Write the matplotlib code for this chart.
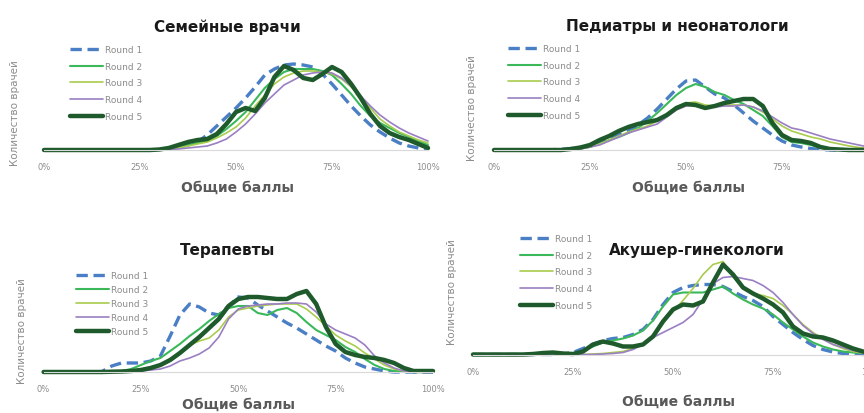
import numpy as np
import matplotlib
matplotlib.use("Agg")
import matplotlib.pyplot as plt

# шкала баллов (шаг 2.5%)
scores = np.arange(0, 100.1, 2.5)
tick_pos = [0, 25, 50, 75, 100]
tick_labels = ['0%', '25%', '50%', '75%', '100%']
round_names = ['Round 1', 'Round 2', 'Round 3', 'Round 4', 'Round 5']

# Семейные врачи
fam_r1 = [0]*12 + [0.5, 1, 2.5, 5, 8, 15, 24, 33, 42, 52, 63, 75, 81, 85, 86, 85, 83, 76, 66, 55, 44, 34, 25, 18, 12, 7, 4, 2, 1]
fam_r2 = [0]*12 + [0.5, 1, 3, 5, 7, 9, 14, 21, 29, 38, 50, 62, 71, 78, 81, 81, 81, 79, 75, 66, 56, 44, 34, 27, 22, 17, 13, 9, 5]
fam_r3 = [0]*12 + [0.5, 1, 2, 4, 6, 8, 12, 17, 23, 32, 44, 55, 66, 73, 77, 79, 79, 78, 76, 71, 63, 53, 42, 31, 24, 18, 14, 10, 7]
fam_r4 = [0]*12 + [0.3, 0.5, 1, 2, 3, 4, 7, 11, 18, 26, 36, 47, 56, 65, 70, 75, 77, 78, 77, 72, 64, 54, 44, 35, 28, 22, 17, 13, 9]
fam_r5 = [0]*12 + [0.5, 2, 5, 8, 10, 11, 16, 26, 38, 42, 39, 52, 73, 84, 80, 72, 70, 76, 83, 78, 66, 52, 36, 24, 17, 13, 10, 6, 2]

# Педиатры и неонатологи
ped_r1 = [0]*6 + [0.3, 0.7, 1.3, 2.5, 4, 7, 11, 15, 19, 25, 32, 41, 51, 61, 69, 70, 63, 56, 52, 45, 37, 29, 22, 15, 9, 5, 3, 1.5, 0.5] + [0]*6
ped_r2 = [0]*8 + [0.5, 1.5, 3, 6, 10, 13, 17, 22, 29, 37, 46, 55, 62, 66, 63, 58, 55, 50, 46, 40, 34, 24, 13, 8, 7, 5, 2.5, 1, 0.5] + [0]*4
ped_r3 = [0]*8 + [0.5, 1, 3, 6, 10, 14, 18, 21, 24, 29, 36, 43, 47, 48, 45, 44, 45, 45, 45, 43, 38, 31, 24, 19, 16, 13, 11, 8, 6, 4, 2.5, 1.5, 1]
ped_r4 = [0]*8 + [0.5, 1, 3, 5, 9, 13, 17, 20, 23, 26, 33, 40, 44, 45, 43, 43, 44, 44, 45, 43, 39, 33, 27, 22, 20, 17, 14, 11, 9, 7, 5, 3, 2]
ped_r5 = [0]*8 + [1, 2.5, 5, 10, 14, 19, 23, 26, 28, 30, 35, 42, 46, 45, 42, 44, 47, 49, 51, 51, 44, 27, 15, 10, 9, 7, 3, 1, 0.5] + [0]*4

# Терапевты
ther_r1 = [0]*6 + [0.5, 6, 9, 9, 9, 11, 16, 36, 57, 68, 65, 59, 57, 66, 75, 74, 67, 61, 55, 49, 44, 38, 32, 26, 21, 14, 9, 5, 3, 1] + [0]*5
ther_r2 = [0]*8 + [1, 3, 7, 11, 14, 21, 28, 36, 43, 51, 58, 64, 66, 66, 59, 57, 62, 64, 59, 50, 42, 37, 32, 25, 20, 13, 7, 3, 1] + [0]*4
ther_r3 = [0]*8 + [0.5, 1.5, 3, 5, 7, 11, 18, 27, 31, 34, 42, 55, 62, 64, 66, 67, 68, 68, 68, 63, 55, 46, 37, 31, 26, 19, 13, 7, 3, 1] + [0]*3
ther_r4 = [0]*9 + [0.3, 1, 2, 3, 6, 11, 14, 18, 24, 35, 53, 63, 66, 67, 68, 68, 69, 69, 68, 60, 48, 42, 38, 34, 27, 16, 9, 4, 1] + [0]*3
ther_r5 = [0]*7 + [0.3, 0.5, 1, 2, 4, 7, 12, 19, 27, 35, 44, 53, 66, 73, 75, 75, 74, 73, 73, 78, 81, 68, 45, 28, 20, 17, 15, 14, 12, 9, 4, 1, 1, 1]

# Акушер-гинекологи
ob_r1 = [0]*9 + [0.5, 2, 6, 10, 14, 16, 17, 20, 25, 35, 50, 62, 67, 69, 70, 70, 68, 63, 58, 54, 48, 38, 30, 22, 15, 9, 5, 2.5, 1, 0.5, 0, 0]
ob_r2 = [0]*10 + [1, 4, 8, 12, 14, 16, 19, 24, 34, 48, 60, 62, 62, 62, 65, 68, 61, 55, 50, 46, 40, 32, 25, 18, 12, 8, 5, 3, 2, 1.5, 1]
ob_r3 = [0]*12 + [0.5, 1, 2, 3, 6, 10, 19, 32, 43, 54, 66, 80, 90, 93, 78, 66, 61, 59, 56, 49, 40, 30, 22, 16, 10, 6, 3, 1.5, 1]
ob_r4 = [0]*13 + [0.5, 1, 2, 5, 10, 17, 22, 27, 32, 40, 55, 71, 77, 78, 76, 74, 69, 62, 52, 40, 29, 21, 15, 10, 7, 4, 2, 1]
ob_r5 = [0]*6 + [0.5, 1.5, 2, 1, 0.5, 3, 10, 13, 11, 8, 8, 10, 18, 33, 45, 50, 49, 53, 72, 90, 80, 67, 61, 56, 50, 42, 28, 21, 18, 17, 14, 10, 6, 3, 1]

colors = ['#4a7fc6', '#3bb85a', '#a9cc4e', '#9a7fc2', '#1f5a2c']
widths = [2.4, 1.5, 1.2, 1.2, 3.2]
styles = [(0, (3.4, 1.7)), '-', '-', '-', '-']

W, H = 864, 414
fig = plt.figure(figsize=(8.64, 4.14), dpi=100)
fig.patch.set_facecolor('white')


def fx(x):
    return x / W


def fy(y):
    return 1 - y / H


def panel(x0, x100, base, data, title, tpos, ylpos, xlpos, legpos, lspace, nticks=5):
    ax = fig.add_axes([fx(x0), fy(base), (x100 - x0) / W, 100 / H])
    for vals, name, c, lw, ls in zip(data, round_names, colors, widths, styles):
        ax.plot(scores, vals, color=c, lw=lw, linestyle=ls, label=name,
                solid_capstyle='round', solid_joinstyle='round', clip_on=False)
    ax.set_xlim(0, 100)
    ax.set_ylim(0, 100)
    for s in ['top', 'left', 'right']:
        ax.spines[s].set_visible(False)
    ax.spines['bottom'].set_color('#d9d9d9')
    ax.spines['bottom'].set_linewidth(0.8)
    ax.set_yticks([])
    # правый край панели обрезан на исходной картинке
    ax.set_xticks(tick_pos[:nticks])
    ax.set_xticklabels(tick_labels[:nticks])
    ax.tick_params(axis='x', length=0, pad=9, labelsize=6, labelcolor='#8c8c8c')
    ax.patch.set_alpha(0)

    fig.text(fx(tpos[0]), fy(tpos[1]), title, ha='center', va='center',
             fontsize=11, fontweight='bold', color='#1a1a1a')
    fig.text(fx(ylpos[0]), fy(ylpos[1]), 'Количество врачей', rotation=90,
             ha='center', va='center', fontsize=7.5, color='#8c8c8c')
    fig.text(fx(xlpos[0]), fy(xlpos[1]), 'Общие баллы', ha='center', va='center',
             fontsize=10, fontweight='bold', color='#595959')
    ax.legend(loc='upper left', bbox_to_anchor=(fx(legpos[0]), fy(legpos[1])),
              bbox_transform=fig.transFigure, frameon=False, fontsize=6.5,
              labelcolor='#8c8c8c', handlelength=3.6, handletextpad=0.3,
              labelspacing=lspace, borderpad=0, borderaxespad=0)
    return ax


panel(44, 428, 151, [fam_r1, fam_r2, fam_r3, fam_r4, fam_r5], 'Семейные врачи',
      (227, 27), (15, 113), (237, 188), (70, 46), 0.85)
panel(494, 878, 151, [ped_r1, ped_r2, ped_r3, ped_r4, ped_r5], 'Педиатры и неонатологи',
      (677, 27), (472, 108), (688, 188), (508, 45), 0.85, nticks=4)
panel(43.6, 433, 373, [ther_r1, ther_r2, ther_r3, ther_r4, ther_r5], 'Терапевты',
      (228, 250), (22, 331), (238, 405), (76, 272), 0.55)
panel(473, 873, 355.5, [ob_r1, ob_r2, ob_r3, ob_r4, ob_r5], 'Акушер-гинекологи',
      (697, 250), (452, 292), (678, 402), (520, 235), 0.85)

fig.savefig('out.png', dpi=100, facecolor='white')
